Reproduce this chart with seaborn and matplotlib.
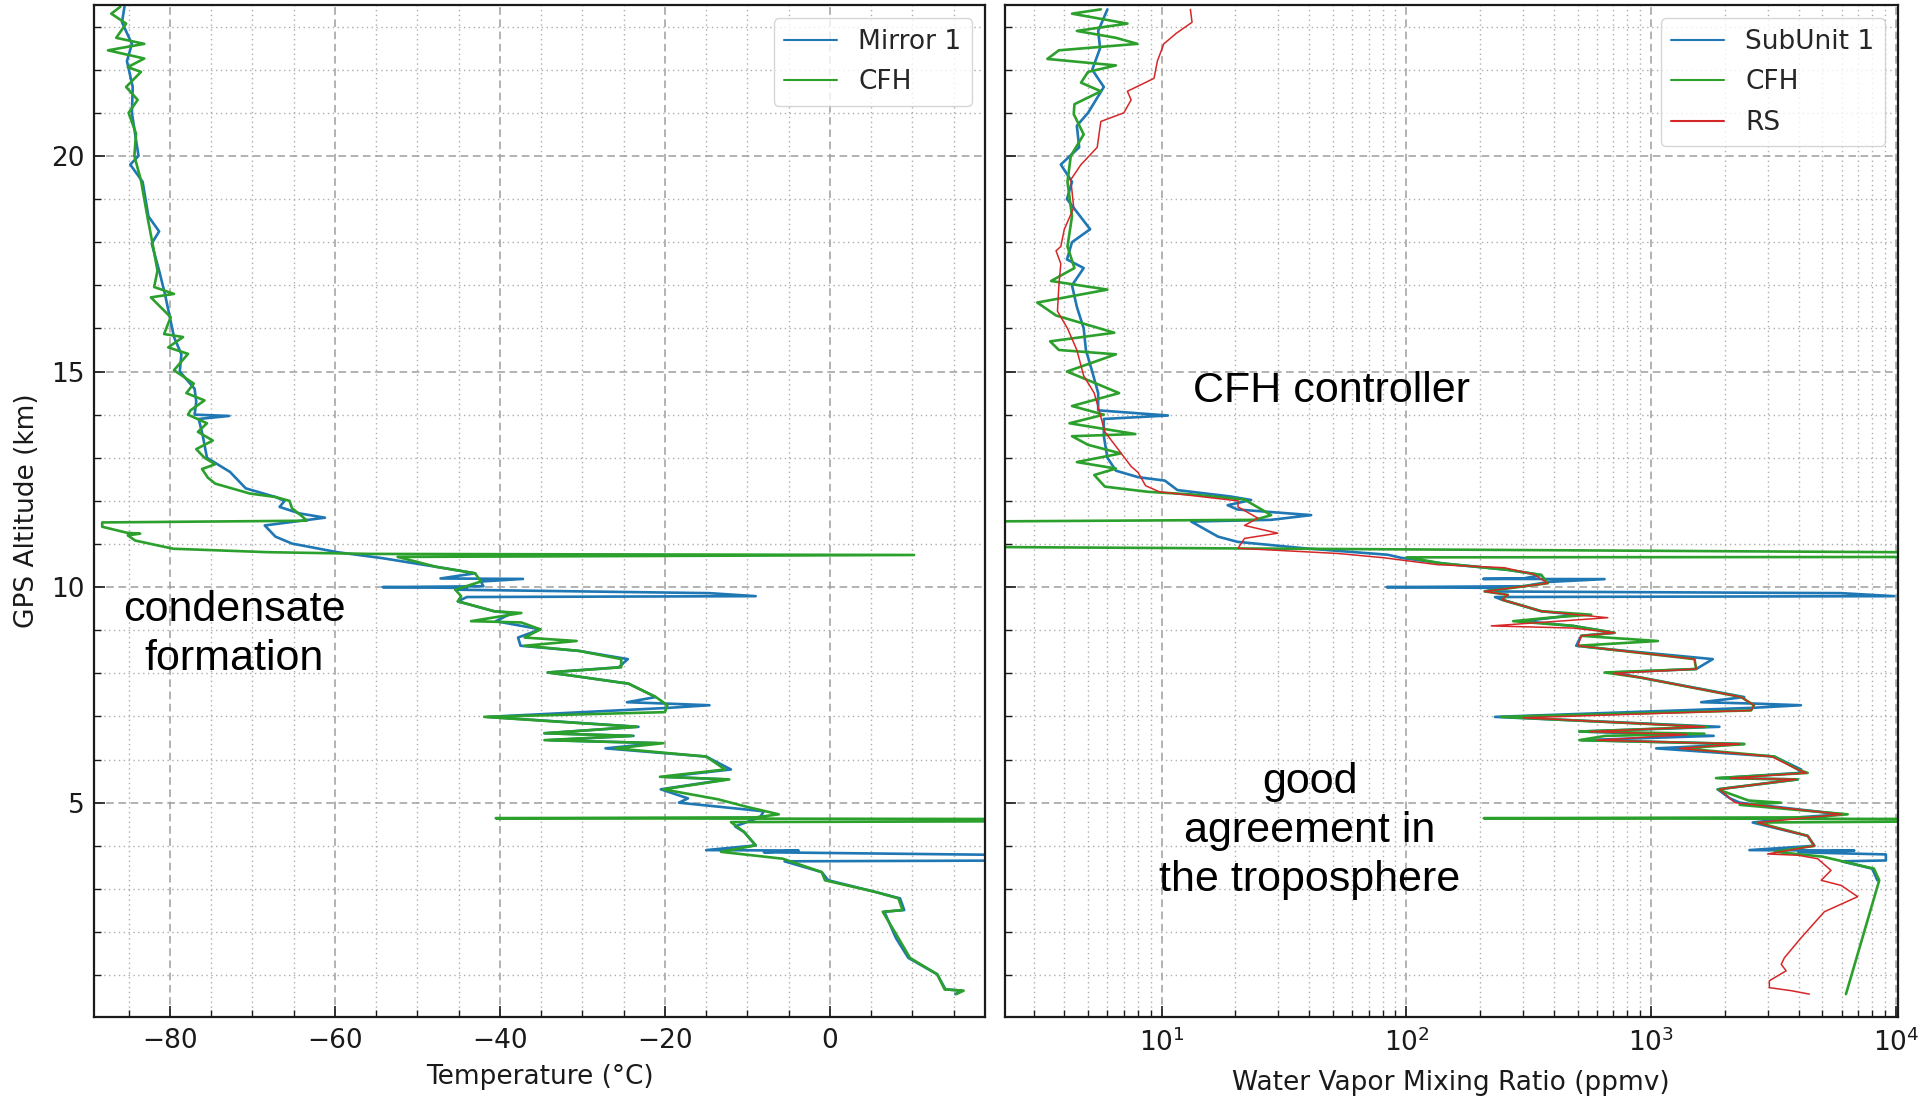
import numpy as np
import pandas as pd
import matplotlib
matplotlib.use("Agg")
import matplotlib.pyplot as plt
from matplotlib.ticker import MultipleLocator, LogLocator, NullFormatter
import seaborn as sns

# ---------------- data ----------------
# Left panel: temperature (deg C) vs GPS altitude (km)
mirror_alt = [23.46, 23.10, 22.60, 22.20, 21.60, 21.00, 20.50, 20.00, 19.80, 19.40, 18.60, 18.25, 17.97,
              17.34, 16.80, 16.26, 15.80, 15.40, 15.00, 14.60, 14.30, 14.00, 13.97, 13.90, 13.50, 13.00,
              12.67, 12.29, 12.09, 12.00, 11.86, 11.71, 11.61, 11.43, 11.17, 11.01, 10.81, 10.67, 10.47,
              10.32, 10.20, 10.19, 10.13, 10.02, 10.00, 9.98, 9.94, 9.86, 9.79, 9.77, 9.67, 9.44, 9.40,
              9.21, 9.02, 8.83, 8.64, 8.52, 8.33, 8.14, 8.02, 7.95, 7.76, 7.45, 7.33, 7.30, 7.26, 7.20,
              6.99, 6.76, 6.61, 6.55, 6.45, 6.38, 6.26, 6.07, 5.77, 5.60, 5.54, 5.31, 5.10, 5.00, 4.80,
              4.66, 4.45, 4.32, 4.01, 3.90, 3.89, 3.85, 3.78, 3.66, 3.64, 3.39, 3.20, 2.93, 2.78, 2.51,
              2.47, 1.86, 1.40, 1.02, 0.67, 0.64, 0.56]
mirror_T = [-85.5, -85.8, -84.6, -85.2, -84.5, -84.6, -84.2, -83.8, -84.8, -83.3, -82.6, -81.3, -82.2,
            -81.3, -80.6, -80.0, -79.5, -78.6, -78.8, -77.0, -76.8, -77.0, -72.8, -76.5, -76.0, -75.5,
            -72.7, -70.8, -67.2, -66.1, -66.7, -64.3, -61.2, -68.5, -67.2, -65.2, -59.7, -54.2, -47.7,
            -43.0, -47.2, -37.2, -42.3, -42.0, -54.2, -44.0, -45.4, -14.6, -9.0, -44.0, -45.1, -40.7, -38.5,
            -40.5, -35.1, -37.8, -37.5, -30.4, -24.5, -25.6, -34.2, -31.4, -24.4, -21.1, -24.6, -20.0, -14.6, -19.5,
            -41.5, -23.2, -34.6, -23.8, -34.0, -21.0, -27.2, -15.0, -12.0, -20.0, -12.5, -20.5, -17.2, -18.3, -8.0,
            -8.5, -11.5, -10.4, -9.0, -15.0, -3.8, -8.0, 25.0, 25.0, -5.5, -1.0, -0.2, 5.5, 8.5, 9.0,
            6.6, 8.0, 9.5, 13.0, 14.0, 16.0, 15.2]

cfh_alt_T = [23.46, 23.30, 23.07, 22.74, 22.60, 22.45, 22.26, 22.06, 21.95, 21.60, 21.30, 21.00, 20.52,
             20.00, 19.43, 18.57, 17.97, 17.34, 16.96, 16.80, 16.72, 16.26, 15.87, 15.80, 15.56, 15.41,
             15.03, 14.72, 14.50, 14.33, 14.10, 14.00, 13.80, 13.60, 13.40, 13.20, 13.00, 12.85, 12.74,
             12.54, 12.40, 12.17, 12.09, 12.00, 11.83, 11.63, 11.54, 11.50, 11.40, 11.26, 11.24, 11.20,
             11.08, 10.89, 10.81, 10.77, 10.745, 10.70, 10.47, 10.32, 10.13, 9.94, 9.79, 9.67, 9.44, 9.40,
             9.21, 9.18, 9.02, 8.83, 8.75, 8.64, 8.52, 8.33, 8.14, 8.02, 7.95, 7.76, 7.45, 7.26, 7.10,
             6.99, 6.76, 6.61, 6.55, 6.45, 6.38, 6.26, 6.07, 5.77, 5.60, 5.54, 5.31, 5.08, 4.90, 4.73,
             4.66, 4.64, 4.62, 4.57, 4.55, 4.32, 4.01, 3.86, 3.70, 3.39, 3.20, 2.93, 2.78, 2.51, 2.47,
             1.86, 1.40, 1.02, 0.67, 0.64, 0.56]
cfh_T = [-86.0, -87.1, -85.3, -86.5, -83.1, -87.5, -83.1, -85.1, -83.5, -85.3, -83.9, -85.0, -84.1,
         -84.3, -83.5, -82.7, -82.1, -81.5, -81.9, -79.5, -82.3, -79.9, -80.7, -78.4, -80.2, -77.8,
         -79.5, -77.1, -78.0, -75.8, -77.5, -77.8, -75.5, -76.6, -74.8, -76.8, -75.8, -74.5, -76.1,
         -75.4, -74.5, -70.3, -67.2, -65.5, -65.2, -63.9, -63.4, -88.2, -88.2, -85.2, -83.6, -85.1,
         -84.2, -79.6, -68.1, -55.7, 10.2, -52.4, -47.7, -43.0, -42.3, -45.4, -44.7, -45.1, -40.7, -37.4,
         -43.5, -37.4, -35.1, -37.0, -30.7, -37.0, -30.4, -25.3, -25.3, -34.2, -31.4, -24.4, -21.1, -19.7, -20.0,
         -41.9, -23.4, -34.6, -24.0, -34.6, -20.2, -26.0, -15.0, -12.7, -20.6, -12.2, -20.2, -13.6, -10.0, -6.2,
         -9.0, -40.5, 25.0, 25.0, -12.0, -10.4, -9.0, -13.2, -5.7, -1.0, -0.6, 5.5, 8.3, 8.8, 6.4,
         8.3, 9.7, 13.0, 13.9, 16.2, 15.3]

# Right panel: water vapour mixing ratio (ppmv) vs GPS altitude (km)
subunit_alt = [23.40, 22.90, 22.50, 22.00, 21.60, 21.00, 20.70, 20.20, 19.80, 19.40, 19.00, 18.30, 18.00,
               17.60, 17.40, 17.00, 16.50, 16.00, 15.50, 15.00, 14.50, 14.10, 13.98, 13.90, 13.50, 13.00,
               12.70, 12.55, 12.47, 12.25, 12.10, 12.02, 11.90, 11.80, 11.67, 11.56, 11.52, 11.17, 11.05,
               10.90, 10.75, 10.68, 10.55, 10.40, 10.28, 10.20, 10.19, 10.185, 10.12, 10.02, 10.00, 9.98,
               9.90, 9.86, 9.79, 9.77, 9.71, 9.44, 9.36, 9.21, 9.10, 8.94, 8.87, 8.64, 8.56, 8.33, 8.10,
               8.02, 7.90, 7.45, 7.33, 7.30, 7.26, 7.20, 6.99, 6.76, 6.65, 6.55, 6.45, 6.36, 6.26, 6.07,
               5.77, 5.69, 5.57, 5.54, 5.31, 5.10, 5.00, 4.73, 4.66, 4.54, 4.23, 4.00, 3.90, 3.89, 3.85,
               3.80, 3.66, 3.64, 3.47, 3.20]
subunit_wv = [6.0, 5.5, 5.6, 5.2, 5.8, 5.0, 4.5, 4.6, 3.87, 4.3, 4.1, 5.1, 4.3,
              4.1, 4.8, 4.3, 4.5, 4.8, 4.9, 5.2, 5.5, 5.5, 10.6, 5.8, 5.8, 6.0,
              6.5, 8.0, 10.3, 11.6, 19.2, 23.2, 18.6, 20.4, 40.8, 28.0, 13.2, 17.0, 20.4,
              38.4, 84.0, 95.0, 140.0, 260.0, 356.0, 300.0, 206.0, 645.0, 380.0, 300.0, 83.0, 250.0,
              209.0, 5970.0, 9840.0, 230.0, 245.0, 356.0, 500.0, 300.0, 480.0, 708.0, 518.0, 494.0, 665.0, 1786.0, 1527.0,
              700.0, 910.0, 2400.0, 1600.0, 2600.0, 4090.0, 2600.0, 230.0, 1900.0, 509.0, 1800.0, 520.0, 2400.0, 1048.0, 3185.0,
              4100.0, 4000.0, 1900.0, 3970.0, 1870.0, 2100.0, 2300.0, 6000.0, 4000.0, 2600.0, 4360.0, 4640.0, 2520.0, 6760.0, 4000.0,
              9100.0, 9100.0, 6000.0, 8000.0, 8400.0]

cfh_alt_wv = [23.40, 23.30, 23.07, 22.90, 22.74, 22.60, 22.45, 22.25, 22.10, 21.95, 21.70, 21.50, 21.20,
              20.97, 20.50, 20.00, 19.40, 18.60, 17.90, 17.40, 17.10, 16.90, 16.60, 16.30, 15.90, 15.70,
              15.50, 15.40, 15.00, 14.80, 14.50, 14.20, 14.00, 13.80, 13.55, 13.50, 13.30, 13.10, 12.90,
              12.75, 12.60, 12.33, 12.21, 12.15, 12.03, 11.94, 11.67, 11.56, 11.52, 11.40, 11.00, 10.93,
              10.80, 10.70, 10.69, 10.55, 10.40, 10.28, 10.09, 9.90, 9.82, 9.71, 9.44, 9.36, 9.30, 9.21,
              9.10, 8.94, 8.87, 8.75, 8.64, 8.56, 8.33, 8.10, 8.02, 7.90, 7.45, 7.26, 7.14, 6.99, 6.76,
              6.65, 6.60, 6.55, 6.45, 6.36, 6.26, 6.07, 5.77, 5.69, 5.57, 5.54, 5.31, 5.05, 5.00, 4.95,
              4.73, 4.66, 4.64, 4.62, 4.57, 4.54, 4.23, 4.00, 3.86, 3.75, 3.47, 3.20, 0.56]
cfh_wv = [5.64, 4.3, 7.24, 4.5, 6.5, 7.96, 3.8, 3.41, 6.5, 5.0, 4.68, 5.64, 4.4,
          4.37, 4.8, 4.25, 4.12, 4.3, 4.12, 4.4, 3.53, 6.0, 3.1, 3.7, 6.4, 3.5,
          3.8, 6.5, 4.1, 5.0, 6.7, 4.3, 5.8, 4.2, 7.8, 4.3, 5.0, 6.8, 4.5,
          6.5, 5.3, 5.86, 8.8, 13.2, 21.8, 23.2, 28.0, 24.0, 1.5, 1.5, 1.8, 2.0,
          20000.0, 20000.0, 100.0, 140.0, 260.0, 356.0, 378.0, 209.0, 260.0, 245.0, 356.0, 569.0, 400.0, 273.0,
          480.0, 708.0, 518.0, 1065.0, 502.0, 665.0, 1503.0, 1527.0, 645.0, 910.0, 2330.0, 2630.0, 2560.0, 244.0, 1703.0,
          509.0, 1650.0, 650.0, 509.0, 2400.0, 1350.0, 3185.0, 3970.0, 4360.0, 1840.0, 3970.0, 1870.0, 2500.0, 3390.0, 2300.0,
          6350.0, 4500.0, 207.0, 20000.0, 20000.0, 2720.0, 4360.0, 4640.0, 3200.0, 5000.0, 8130.0, 8550.0, 6250.0]

rs_alt = [23.40, 23.10, 22.85, 22.60, 22.20, 21.80, 21.50, 21.30, 21.00, 20.80, 20.20, 19.80, 19.45,
          18.80, 18.30, 17.90, 17.80, 17.50, 17.00, 16.40, 16.00, 15.50, 14.90, 14.50, 13.60, 12.80,
          12.66, 12.35, 12.21, 12.00, 11.86, 11.60, 11.43, 11.25, 11.13, 10.90, 10.78, 10.68, 10.52,
          10.45, 10.30, 10.09, 9.90, 9.82, 9.71, 9.44, 9.29, 9.10, 9.05, 8.94, 8.87, 8.64, 8.56, 8.33,
          8.10, 8.00, 7.90, 7.45, 7.26, 7.14, 6.97, 6.76, 6.65, 6.58, 6.45, 6.36, 6.26, 6.07, 5.77,
          5.69, 5.57, 5.54, 5.31, 5.00, 4.73, 4.66, 4.60, 4.54, 4.40, 4.23, 4.00, 3.81, 3.78, 3.70,
          3.43, 3.20, 3.08, 2.82, 2.47, 1.86, 1.40, 1.25, 1.10, 0.87, 0.71, 0.64, 0.56]
rs_wv = [13.1, 13.3, 11.5, 10.2, 9.6, 9.3, 7.24, 7.5, 7.0, 5.64, 5.45, 4.68, 4.25,
         4.37, 4.0, 3.87, 3.7, 3.87, 3.8, 3.75, 4.12, 4.5, 4.8, 5.3, 5.86, 7.5,
         8.0, 8.6, 9.8, 20.5, 20.5, 24.7, 21.8, 29.8, 21.8, 20.5, 52.5, 81.0, 134.0,
         251.0, 330.0, 378.0, 209.0, 260.0, 245.0, 356.0, 665.0, 222.0, 480.0, 708.0, 518.0, 502.0, 665.0, 1503.0,
         1527.0, 700.0, 910.0, 2330.0, 2630.0, 2560.0, 300.0, 1650.0, 560.0, 1400.0, 600.0, 2300.0, 1300.0, 3100.0, 3970.0,
         4300.0, 2100.0, 3900.0, 1900.0, 2200.0, 6000.0, 4500.0, 3500.0, 2720.0, 3300.0, 4360.0, 4640.0, 2990.0, 4000.0, 4790.0,
         5430.0, 4950.0, 5980.0, 6980.0, 5100.0, 4090.0, 3500.0, 3400.0, 3560.0, 3040.0, 3040.0, 3730.0, 4430.0]

BLUE, GREEN, RED = "#1f77b4", "#2ca02c", "#d62728"

# ---------------- figure ----------------
sns.set_theme(style="white")
plt.rcParams["font.family"] = ["DejaVu Sans"]

fig = plt.figure(figsize=(19.33, 10.98), dpi=100)
ax1 = fig.add_axes([0.0486, 0.0738, 0.4610, 0.9216])
ax2 = fig.add_axes([0.5197, 0.0738, 0.4622, 0.9216], sharey=ax1)

sns.lineplot(x=mirror_T, y=mirror_alt, sort=False, estimator=None, ax=ax1,
             color=BLUE, lw=1.9, label="Mirror 1")
sns.lineplot(x=cfh_T, y=cfh_alt_T, sort=False, estimator=None, ax=ax1,
             color=GREEN, lw=1.9, label="CFH")

sns.lineplot(x=subunit_wv, y=subunit_alt, sort=False, estimator=None, ax=ax2,
             color=BLUE, lw=1.9, label="SubUnit 1")
sns.lineplot(x=cfh_wv, y=cfh_alt_wv, sort=False, estimator=None, ax=ax2,
             color=GREEN, lw=1.9, label="CFH")
sns.lineplot(x=rs_wv, y=rs_alt, sort=False, estimator=None, ax=ax2,
             color=RED, lw=1.1, label="RS")

ax2.set_xscale("log")
ax1.set_xlim(-89.2, 18.8)
ax2.set_xlim(2.28, 1.02e4)
ax1.set_ylim(0.03, 23.5)

ax1.xaxis.set_major_locator(MultipleLocator(20))
ax1.xaxis.set_minor_locator(MultipleLocator(5))
ax1.yaxis.set_major_locator(MultipleLocator(5))
ax1.yaxis.set_minor_locator(MultipleLocator(1))
ax2.xaxis.set_major_locator(LogLocator(base=10, numticks=10))
ax2.xaxis.set_minor_locator(LogLocator(base=10, subs=np.arange(2, 10), numticks=20))
ax2.xaxis.set_minor_formatter(NullFormatter())
plt.setp(ax2.get_yticklabels(), visible=False)

for ax in (ax1, ax2):
    ax.grid(True, which="major", linestyle=(0, (5, 3)), color="0.62", lw=1.1)
    ax.grid(True, which="minor", linestyle=(0, (1, 2.5)), color="0.68", lw=1.0)
    ax.tick_params(which="both", direction="in", labelsize=19, colors="0.1",
                   bottom=True, left=True, top=False, right=False)
    ax.tick_params(which="major", length=8, width=1.2)
    ax.tick_params(which="minor", length=5, width=1.0)
    ax.tick_params(axis="x", which="both", pad=8)
    ax.tick_params(axis="y", which="both", pad=6.8)
    for s in ax.spines.values():
        s.set_linewidth(1.6)
        s.set_color("0.1")
    ax.set_axisbelow(True)
    leg = ax.legend(loc="upper right", fontsize=19, frameon=True, handlelength=2.0,
                    labelspacing=0.55)
    for h in leg.get_lines():
        h.set_linewidth(1.5)

ax1.set_xlabel("Temperature (°C)", fontsize=19, color="0.1", labelpad=7)
ax1.set_ylabel("GPS Altitude (km)", fontsize=19, color="0.1", labelpad=7.8)
ax2.set_xlabel("Water Vapor Mixing Ratio (ppmv)", fontsize=19, color="0.1", labelpad=10)
ax2.set_ylabel("")

ann = dict(fontsize=31, family=["Liberation Sans", "DejaVu Sans"], color="black",
           ha="center", va="center", linespacing=1.29)
ax1.text(-72.2, 8.9, "condensate\nformation", **ann)
ax2.text(49.5, 14.56, "CFH controller", **ann)
ax2.text(40.2, 4.34, "good\nagreement in\nthe troposphere", **ann)

fig.savefig("out.png", dpi=100)
